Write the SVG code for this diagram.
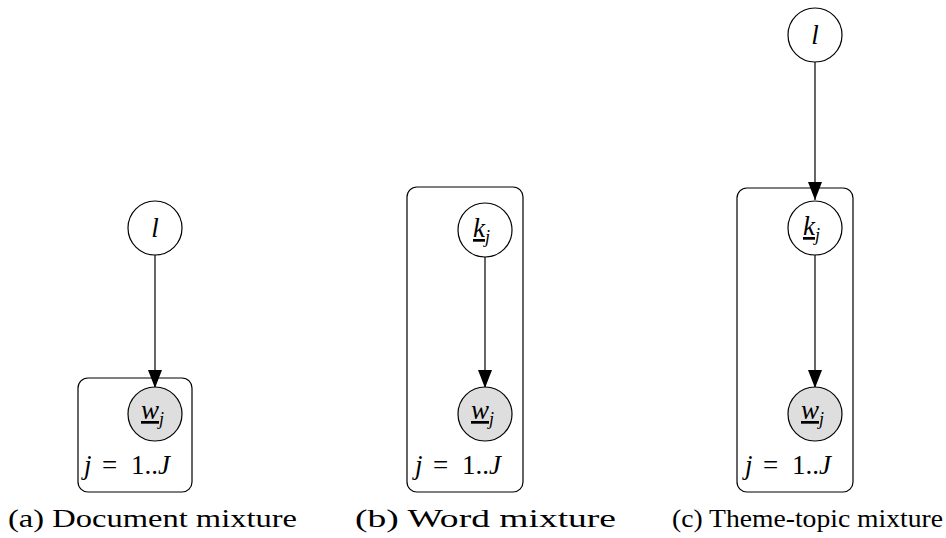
<svg xmlns="http://www.w3.org/2000/svg" width="946" height="538" viewBox="0 0 946 538">
<style>
.node{fill:#fff;stroke:#000;stroke-width:1.2}
.obs{fill:#dedede;stroke:#000;stroke-width:1.2}
.plate{fill:none;stroke:#000;stroke-width:1.2}
.edge{stroke:#000;stroke-width:1.2;fill:none}
.m{font-family:"Liberation Serif","DejaVu Serif",serif;font-style:italic;font-size:27px;fill:#000}
.sub{font-size:18px}
.pl{font-family:"Liberation Serif","DejaVu Serif",serif;font-size:27px;fill:#000}
.cap{font-family:"Liberation Serif","DejaVu Serif",serif;font-size:26px;fill:#000}
</style>
<defs>
<marker id="ah" markerUnits="userSpaceOnUse" markerWidth="18" markerHeight="14" refX="18" refY="7" orient="auto" viewBox="0 0 18 14">
<path d="M0,0 L18,7 L0,14 Z" fill="#000"/>
</marker>
</defs>
<g id="connectors">
<line class="edge" x1="155" y1="255" x2="155" y2="388" marker-end="url(#ah)"/>
<line class="edge" x1="485" y1="257" x2="485" y2="388" marker-end="url(#ah)"/>
<line class="edge" x1="815" y1="62" x2="815" y2="200" marker-end="url(#ah)"/>
<line class="edge" x1="815" y1="255" x2="815" y2="388" marker-end="url(#ah)"/>
</g>
<g id="plate-a">
<rect class="plate" x="78" y="378" width="114" height="114" rx="10"/>
<text class="pl" y="474"><tspan x="84" font-style="italic">j</tspan><tspan x="102">=</tspan><tspan x="131">1..</tspan><tspan font-style="italic">J</tspan></text>
</g>
<g id="plate-b">
<rect class="plate" x="407" y="187" width="116" height="305" rx="10"/>
<text class="pl" y="474"><tspan x="415" font-style="italic">j</tspan><tspan x="433">=</tspan><tspan x="462">1..</tspan><tspan font-style="italic">J</tspan></text>
</g>
<g id="plate-c">
<rect class="plate" x="737" y="188" width="116" height="304" rx="10"/>
<text class="pl" y="474"><tspan x="745" font-style="italic">j</tspan><tspan x="763">=</tspan><tspan x="792">1..</tspan><tspan font-style="italic">J</tspan></text>
</g>
<g id="a-l">
<circle class="node" cx="155" cy="228" r="27"/>
<text class="m" x="155" y="237" text-anchor="middle">l</text>
</g>
<g id="a-w">
<circle class="obs" cx="155" cy="414" r="27"/>
<text class="m" x="141" y="419"><tspan text-decoration="underline">w</tspan><tspan class="sub" dy="6">j</tspan></text>
</g>
<g id="b-k">
<circle class="node" cx="485" cy="230" r="27"/>
<text class="m" x="473" y="237"><tspan text-decoration="underline">k</tspan><tspan class="sub" dy="6">j</tspan></text>
</g>
<g id="b-w">
<circle class="obs" cx="485" cy="414" r="27"/>
<text class="m" x="471" y="419"><tspan text-decoration="underline">w</tspan><tspan class="sub" dy="6">j</tspan></text>
</g>
<g id="c-l">
<circle class="node" cx="815" cy="35" r="27"/>
<text class="m" x="815" y="44" text-anchor="middle">l</text>
</g>
<g id="c-k">
<circle class="node" cx="815" cy="228" r="27"/>
<text class="m" x="803" y="235"><tspan text-decoration="underline">k</tspan><tspan class="sub" dy="6">j</tspan></text>
</g>
<g id="c-w">
<circle class="obs" cx="815" cy="414" r="27"/>
<text class="m" x="801" y="419"><tspan text-decoration="underline">w</tspan><tspan class="sub" dy="6">j</tspan></text>
</g>
<g id="captions">
<text class="cap" x="8" y="527" textLength="289" lengthAdjust="spacingAndGlyphs">(a) Document mixture</text>
<text class="cap" x="355" y="527" textLength="261" lengthAdjust="spacingAndGlyphs">(b) Word mixture</text>
<text class="cap" x="672" y="527" textLength="271" lengthAdjust="spacingAndGlyphs">(c) Theme-topic mixture</text>
</g>
</svg>
